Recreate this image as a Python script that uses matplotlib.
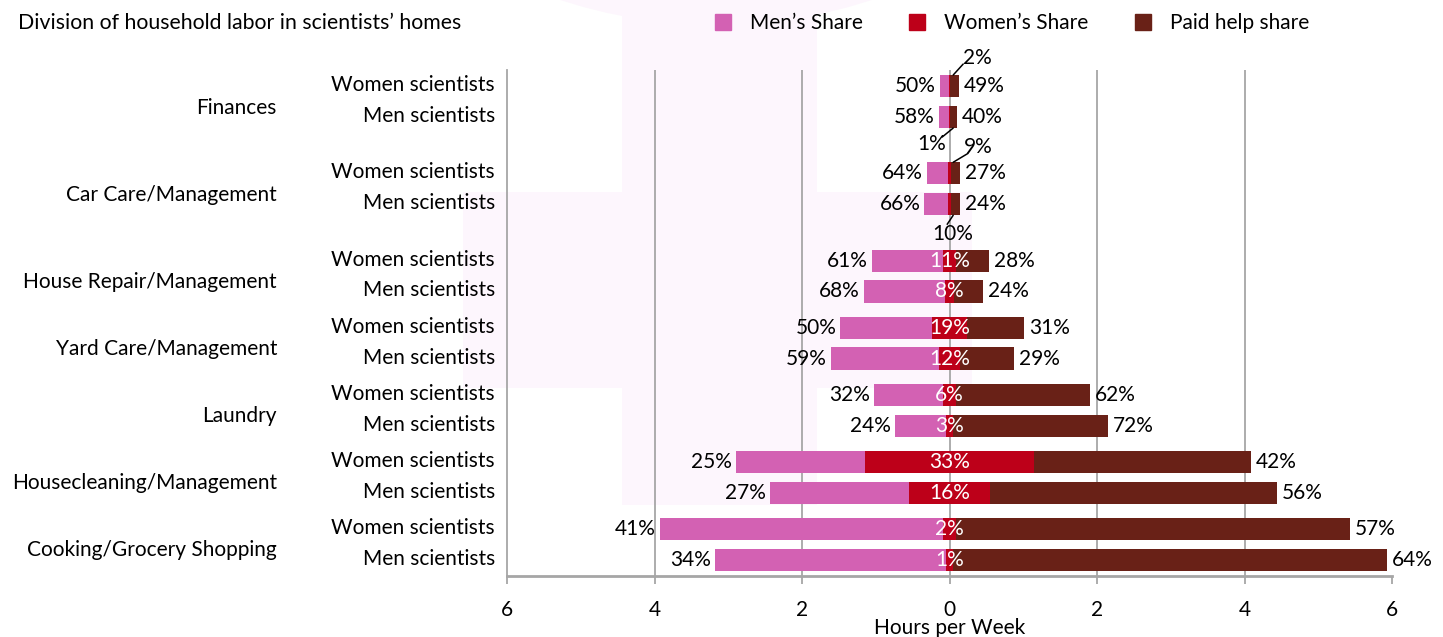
import matplotlib.pyplot as plt
from matplotlib.patches import Rectangle, Circle
from matplotlib.lines import Line2D
import numpy as np

plt.rcParams['font.family'] = ['Lato', 'DejaVu Sans']

# categories, top to bottom
groups = ['Finances', 'Car Care/Management', 'House Repair/Management',
          'Yard Care/Management', 'Laundry', 'Housecleaning/Management',
          'Cooking/Grocery Shopping']
rows = ['Women scientists', 'Men scientists']

# total hours per week, [women scientists, men scientists]
total_hours = [[0.26, 0.25], [0.45, 0.48], [1.58, 1.61], [2.49, 2.48],
               [2.93, 2.92], [6.98, 6.94], [9.36, 9.20]]
# shares in percent
men_share = [[50, 58], [64, 66], [61, 68], [50, 59], [32, 24], [25, 27], [41, 34]]
women_share = [[2, 1], [9, 10], [11, 8], [19, 12], [6, 3], [33, 16], [2, 1]]
paid_share = [[49, 40], [27, 24], [28, 24], [31, 29], [62, 72], [42, 56], [57, 64]]

# small women shares labelled outside with a leader line:
# (leader end offset, text offset) in pixels
callouts = {(0, 0): ((10, 11), (24, 17)),
            (0, 1): ((-11, -9), (-22, -16)),
            (1, 0): ((15, 9), (25, 15)),
            (1, 1): ((-6, -9), (0, -19))}

men_color = '#d361b3'
women_color = '#bd0019'
paid_color = '#692117'
grid_color = '#a6a6a6'
bg_color = '#fdf6fd'
fs = 15

fig = plt.figure(figsize=(14.43, 6.37), dpi=100)
W, H = 1443, 637

# faint background symbol (figure pixels)
fig.patches.append(Circle((716 / 100, (H + 472) / 100), 497 / 100,
                          transform=fig.dpi_scale_trans, facecolor=bg_color,
                          edgecolor='none', zorder=-10))
fig.patches.append(Rectangle((622 / W, 1 - 505 / H), 195 / W, 505 / H,
                             transform=fig.transFigure, facecolor=bg_color,
                             edgecolor='none', zorder=-10))
fig.patches.append(Rectangle((463 / W, 1 - 388 / H), 509 / W, 196 / H,
                             transform=fig.transFigure, facecolor=bg_color,
                             edgecolor='none', zorder=-10))

ax = fig.add_axes([507 / W, 61 / H, 885 / W, 506 / H])
ax.set_facecolor('none')

# y layout: extra gap below the first two groups for the callouts
extra = np.cumsum([0, 0.3, 0.3, 0, 0, 0, 0])
centers = np.arange(len(groups)) + extra
offs = [-0.23, 0.23]
bar_h = 0.33

for i, g in enumerate(groups):
    for j in range(2):
        y = centers[i] + offs[j]
        tot = total_hours[i][j]
        m = tot * men_share[i][j] / 100
        w = tot * women_share[i][j] / 100
        p = tot * paid_share[i][j] / 100
        ax.barh(y, m, left=-w / 2 - m, height=bar_h, color=men_color, zorder=3)
        ax.barh(y, w, left=-w / 2, height=bar_h, color=women_color, zorder=3)
        ax.barh(y, p, left=w / 2, height=bar_h, color=paid_color, zorder=3)

        ax.annotate(f'{men_share[i][j]}%', (-w / 2 - m, y), xytext=(-4, 0),
                    textcoords='offset pixels', ha='right', va='center', fontsize=fs)
        ax.annotate(f'{paid_share[i][j]}%', (w / 2 + p, y), xytext=(5, 0),
                    textcoords='offset pixels', ha='left', va='center', fontsize=fs)
        if (i, j) in callouts:
            (lx, ly), (tx, ty) = callouts[(i, j)]
            edge = y - bar_h / 2 if ly > 0 else y + bar_h / 2
            ax.annotate('', (0.05, edge), xytext=(lx, ly), textcoords='offset pixels',
                        arrowprops=dict(arrowstyle='-', color='black', lw=1.1,
                                        shrinkA=0, shrinkB=0), zorder=5)
            ax.annotate(f'{women_share[i][j]}%', (0.05, edge), xytext=(tx, ty),
                        textcoords='offset pixels', ha='center', va='center',
                        fontsize=fs)
        else:
            ax.text(0, y, f'{women_share[i][j]}%', ha='center', va='center',
                    color='white', fontsize=fs, zorder=4)

        ax.annotate(rows[j], (-6, y), xytext=(-12, 1), textcoords='offset pixels',
                    ha='right', va='center', fontsize=fs, annotation_clip=False)
    ax.annotate(g, (-6, centers[i]), xytext=(-230, -6), textcoords='offset pixels',
                ha='right', va='center', fontsize=fs, annotation_clip=False)

ax.set_xlim(-6, 6)
ax.set_ylim(centers[-1] + 0.47, -0.47)
ax.set_yticks([])
ticks = [-6, -4, -2, 0, 2, 4, 6]
ax.set_xticks(ticks)
ax.set_xticklabels([str(abs(t)) for t in ticks], fontsize=fs)
ax.tick_params(axis='x', direction='out', length=6, width=1.3, color=grid_color, pad=11)
for t in [-4, -2, 0, 2, 4]:
    ax.axvline(t, color=grid_color, lw=1.3, zorder=1)
for s in ['top', 'right']:
    ax.spines[s].set_visible(False)
ax.spines['left'].set_color(grid_color)
ax.spines['left'].set_linewidth(1.3)
ax.spines['bottom'].set_color(grid_color)
ax.spines['bottom'].set_linewidth(2)
ax.set_xlabel('Hours per Week', fontsize=fs, labelpad=-1.5)

fig.text(18 / W, 1 - 23 / H, "Division of household labor in scientists\u2019 homes",
         ha='left', va='center', fontsize=15.3)

handles = [Line2D([], [], marker='s', linestyle='none', markersize=11, color=c)
           for c in [men_color, women_color, paid_color]]
fig.legend(handles, ["Men\u2019s Share", "Women\u2019s Share", 'Paid help share'],
           loc='center', bbox_to_anchor=(1012 / W, 1 - 23 / H), ncol=3,
           frameon=False, fontsize=fs, handletextpad=0.9, columnspacing=2.2,
           handlelength=0.8)

plt.savefig('out.png', dpi=100)
